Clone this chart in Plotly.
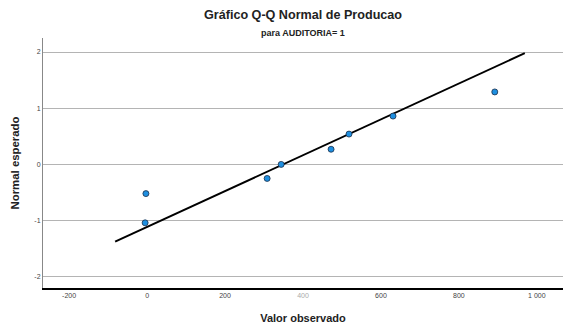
import plotly.graph_objects as go

# Data
observed = [-3, -5, 308, 344, 472, 518, 631, 892]
expected = [-0.52, -1.04, -0.25, 0.0, 0.27, 0.54, 0.86, 1.29]
line_x = [-82, 969]
line_y = [-1.375, 1.98]
x_ticks = [-200, 0, 200, 400, 600, 800, 1000]
x_ticklabels = ["-200", "0", "200", "<span style='color:#aaaaaa'>400</span>", "600", "800", "1 000"]
y_ticks = [-2, -1, 0, 1, 2]
y_ticklabels = ["-2", "-1", "0", "1", "2"]

font = "Liberation Sans, Arial, sans-serif"

fig = go.Figure()
fig.add_trace(go.Scatter(
    x=line_x, y=line_y, mode="lines",
    line=dict(color="black", width=2), hoverinfo="skip", showlegend=False))
fig.add_trace(go.Scatter(
    x=observed, y=expected, mode="markers",
    marker=dict(size=6, color="#1e8fe0", line=dict(color="#1a2e4a", width=0.8)),
    showlegend=False))

fig.update_layout(
    width=573, height=334,
    margin=dict(l=35, r=18, t=30, b=54),
    paper_bgcolor="white", plot_bgcolor="white",
    font=dict(family=font, color="#333333"),
    annotations=[
        dict(text="<b>Gráfico Q-Q Normal de Producao</b>", x=0.5, xref="paper",
             y=1, yref="paper", yanchor="middle", yshift=23, showarrow=False,
             font=dict(size=12.6, color="#222222")),
        dict(text="<b>para AUDITORIA= 1</b>", x=0.5, xref="paper",
             y=1, yref="paper", yanchor="middle", yshift=5, showarrow=False,
             font=dict(size=9, color="#222222")),
    ],
    xaxis=dict(
        range=[-267, 1067], tickvals=x_ticks, ticktext=x_ticklabels,
        showgrid=False, zeroline=False, showline=True, linecolor="black",
        linewidth=1.5, ticks="", tickfont=dict(size=7, color="#444444"),
        automargin=False,
        title=dict(text="<b>Valor observado</b>", font=dict(size=11, color="#222222"),
                   standoff=16)),
    yaxis=dict(
        range=[-2.2, 2.25], tickvals=y_ticks, ticktext=y_ticklabels,
        showgrid=True, gridcolor="#b4b4b4", gridwidth=1, zeroline=False,
        showline=True, linecolor="#888888", linewidth=1, ticks="",
        tickfont=dict(size=7, color="#444444"), automargin=False,
        title=dict(text="<b>Normal esperado</b>", font=dict(size=11.4, color="#222222"),
                   standoff=12)),
)

fig.write_html("out.html")
